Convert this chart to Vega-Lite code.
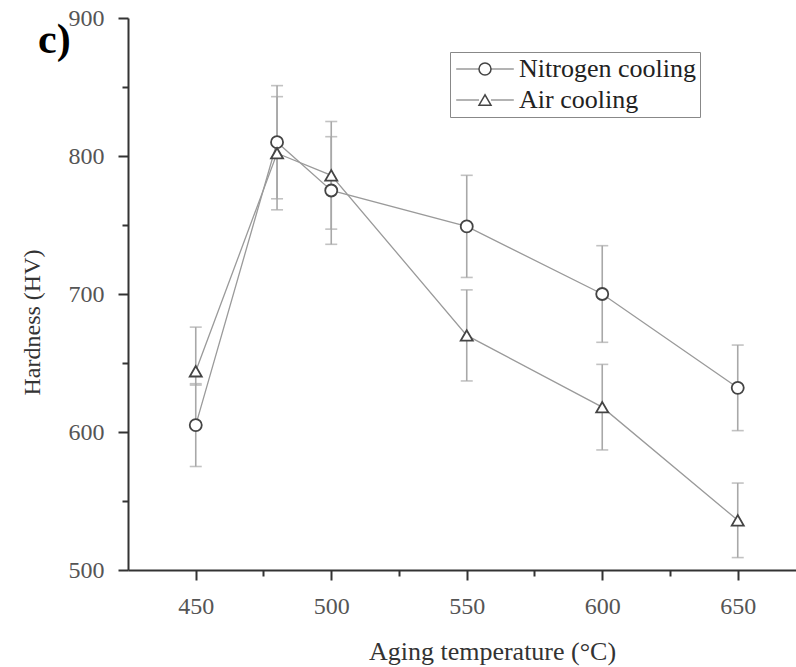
{
  "$schema": "https://vega.github.io/schema/vega-lite/v6.json",
  "width": 668,
  "height": 552,
  "autosize": {"type": "none"},
  "padding": {"left": 128, "top": 18, "right": 0, "bottom": 97},
  "background": "white",
  "config": {"view": {"stroke": null}},
  "title": {"text": "c)", "anchor": "start", "frame": "group", "orient": "top", "offset": 0, "dx": -90, "dy": 89, "baseline": "alphabetic", "font": "Liberation Serif", "fontSize": 42, "fontWeight": "bold", "color": "#000"},
  "data": {"values": [
    {"temp": 450, "series": "Nitrogen cooling", "hv": 605, "lo": 575, "hi": 635},
    {"temp": 480, "series": "Nitrogen cooling", "hv": 810, "lo": 769, "hi": 851},
    {"temp": 500, "series": "Nitrogen cooling", "hv": 775, "lo": 736, "hi": 814},
    {"temp": 550, "series": "Nitrogen cooling", "hv": 749, "lo": 712, "hi": 786},
    {"temp": 600, "series": "Nitrogen cooling", "hv": 700, "lo": 665, "hi": 735},
    {"temp": 650, "series": "Nitrogen cooling", "hv": 632, "lo": 601, "hi": 663},
    {"temp": 450, "series": "Air cooling", "hv": 644, "lo": 634, "hi": 676},
    {"temp": 480, "series": "Air cooling", "hv": 802, "lo": 761, "hi": 843},
    {"temp": 500, "series": "Air cooling", "hv": 786, "lo": 747, "hi": 825},
    {"temp": 550, "series": "Air cooling", "hv": 670, "lo": 637, "hi": 703},
    {"temp": 600, "series": "Air cooling", "hv": 618, "lo": 587, "hi": 649},
    {"temp": 650, "series": "Air cooling", "hv": 536, "lo": 509, "hi": 563}
  ]},
  "layer": [
    {
      "mark": {"type": "rule", "color": "#a8a8a8", "strokeWidth": 1.6},
      "encoding": {
        "x": {"field": "temp", "type": "quantitative", "scale": {"domain": [425, 671.5], "nice": false, "zero": false},
          "axis": {"orient": "bottom", "values": [450, 500, 550, 600, 650], "title": "Aging temperature (°C)", "grid": false,
            "domainColor": "#333", "domainWidth": 2, "tickColor": "#333", "tickWidth": 2, "tickSize": 10,
            "labelFont": "Liberation Serif", "labelFontSize": 24, "labelColor": "#555", "labelPadding": 14,
            "titleFont": "Liberation Serif", "titleFontSize": 26, "titleFontWeight": "normal", "titleColor": "#333", "titlePadding": 20, "titleX": 364}},
        "y": {"field": "lo", "type": "quantitative", "scale": {"domain": [500, 900], "nice": false, "zero": false},
          "axis": {"orient": "left", "values": [500, 600, 700, 800, 900], "title": "Hardness (HV)", "grid": false,
            "domainColor": "#333", "domainWidth": 2, "tickColor": "#333", "tickWidth": 2, "tickSize": 10,
            "labelFont": "Liberation Serif", "labelFontSize": 24, "labelColor": "#555", "labelPadding": 14,
            "titleFont": "Liberation Serif", "titleFontSize": 24, "titleFontWeight": "normal", "titleColor": "#333", "titlePadding": 24, "titleY": 304}},
        "y2": {"field": "hi"}
      }
    },
    {
      "mark": {"type": "tick", "orient": "horizontal", "size": 12, "thickness": 1.6, "color": "#a8a8a8"},
      "encoding": {
        "x": {"field": "temp", "type": "quantitative",
          "axis": {"orient": "bottom", "values": [475, 525, 575, 625], "labels": false, "domain": false, "tickSize": 6, "tickWidth": 2, "tickColor": "#333", "title": null, "grid": false}},
        "y": {"field": "lo", "type": "quantitative",
          "axis": {"orient": "left", "values": [550, 650, 750, 850], "labels": false, "domain": false, "tickSize": 6, "tickWidth": 2, "tickColor": "#333", "title": null, "grid": false}}
      }
    },
    {
      "mark": {"type": "tick", "orient": "horizontal", "size": 12, "thickness": 1.6, "color": "#a8a8a8"},
      "encoding": {
        "x": {"field": "temp", "type": "quantitative", "axis": null},
        "y": {"field": "hi", "type": "quantitative", "axis": null}
      }
    },
    {
      "mark": {"type": "line", "strokeWidth": 1.3},
      "encoding": {
        "x": {"field": "temp", "type": "quantitative", "axis": null},
        "y": {"field": "hv", "type": "quantitative", "axis": null},
        "color": {"field": "series", "type": "nominal", "sort": ["Nitrogen cooling", "Air cooling"],
          "scale": {"range": ["#9a9a9a", "#9a9a9a"]},
          "legend": {"title": null, "orient": "none", "legendX": 322, "legendY": 34,
            "strokeColor": "#888", "padding": 4,
            "symbolType": "M-4.8,0H-1M1,0H4.8", "symbolSize": 144, "symbolStrokeWidth": 1.3,
            "symbolOffset": 18, "labelOffset": 21, "rowPadding": 5, "labelLimit": 400,
            "labelFont": "Liberation Serif", "labelFontSize": 26, "labelColor": "#222"}}
      }
    },
    {
      "mark": {"type": "point", "filled": false, "fill": "white", "strokeWidth": 1.8, "size": 145, "opacity": 1},
      "encoding": {
        "x": {"field": "temp", "type": "quantitative", "axis": null},
        "y": {"field": "hv", "type": "quantitative", "axis": null},
        "stroke": {"field": "series", "type": "nominal",
          "scale": {"domain": ["Nitrogen cooling", "Air cooling"], "range": ["#444444", "#444444"]},
          "legend": {"title": null, "orient": "none", "legendX": 322, "legendY": 34,
            "padding": 4, "symbolSize": 144, "symbolStrokeWidth": 1.5,
            "symbolOffset": 18, "labelOffset": 21, "rowPadding": 5, "labelLimit": 400,
            "labelFont": "Liberation Serif", "labelFontSize": 26, "labelColor": "#222", "labelOpacity": 0}},
        "shape": {"field": "series", "type": "nominal",
          "scale": {"domain": ["Nitrogen cooling", "Air cooling"], "range": ["circle", "triangle-up"]},
          "legend": {"title": null, "orient": "none", "legendX": 322, "legendY": 34,
            "padding": 4, "symbolSize": 144, "symbolStrokeWidth": 1.5,
            "symbolOffset": 18, "labelOffset": 21, "rowPadding": 5, "labelLimit": 400,
            "labelFont": "Liberation Serif", "labelFontSize": 26, "labelColor": "#222", "labelOpacity": 0}}
      }
    }
  ],
  "resolve": {"axis": {"x": "independent", "y": "independent"}}
}
